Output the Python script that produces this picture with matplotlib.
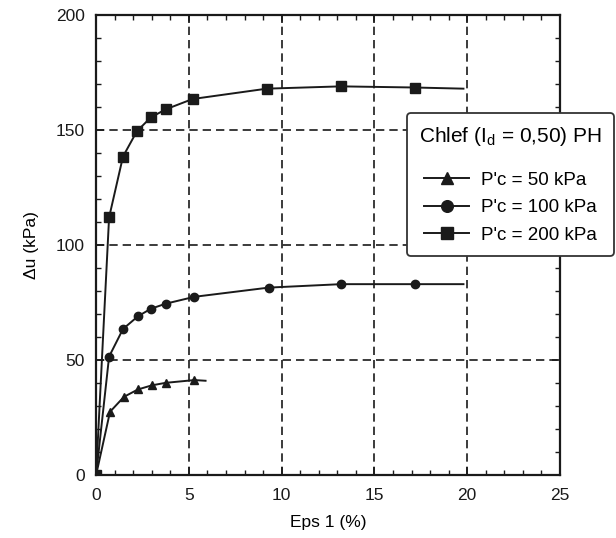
import matplotlib
matplotlib.use("Agg")
import matplotlib.pyplot as plt
from matplotlib.ticker import MultipleLocator

plt.rcParams['font.family'] = ['Liberation Sans', 'DejaVu Sans']

# Data (Eps1 %, Delta u kPa)
eps_50 = [0.0, 0.75, 1.5, 2.25, 3.0, 3.75, 5.3, 5.9]
du_50 = [0.0, 27.5, 34.0, 37.2, 39.0, 40.1, 41.3, 41.0]

eps_100 = [0.0, 0.7, 1.45, 2.25, 2.95, 3.75, 5.3, 9.3, 13.2, 17.2, 19.8]
du_100 = [0.0, 51.5, 63.5, 69.0, 72.3, 74.5, 77.5, 81.5, 83.0, 83.0, 83.0]

eps_200 = [0.0, 0.7, 1.45, 2.2, 2.95, 3.75, 5.2, 9.2, 13.2, 17.2, 19.8]
du_200 = [0.0, 112.0, 138.5, 149.5, 155.5, 159.0, 163.5, 168.0, 169.0, 168.5, 168.0]

labels = ["P'c = 50 kPa", "P'c = 100 kPa", "P'c = 200 kPa"]
xticks = [0, 5, 10, 15, 20, 25]
yticks = [0, 50, 100, 150, 200]

fig = plt.figure(figsize=(6.16, 5.38), dpi=100)
ax = fig.add_axes([0.156, 0.117, 0.753, 0.855])

ax.plot(eps_50, du_50, color='#1a1a1a', lw=1.4, marker='^', ms=6,
        markevery=list(range(len(eps_50) - 1)), label=labels[0])
ax.plot(eps_100, du_100, color='#1a1a1a', lw=1.4, marker='o', ms=6,
        markevery=list(range(len(eps_100) - 1)), label=labels[1])
ax.plot(eps_200, du_200, color='#1a1a1a', lw=1.4, marker='s', ms=6.5,
        markevery=list(range(len(eps_200) - 1)), label=labels[2])

ax.set_xlim(0, 25)
ax.set_ylim(0, 200)
ax.set_xticks(xticks)
ax.set_yticks(yticks)
ax.xaxis.set_minor_locator(MultipleLocator(1))
ax.yaxis.set_minor_locator(MultipleLocator(10))
ax.tick_params(which='both', direction='in', top=True, right=True, labelsize=12.5, colors='#1a1a1a')
ax.tick_params(axis='x', which='major', pad=9)
ax.tick_params(axis='y', which='major', pad=8)
ax.tick_params(which='major', length=6, width=1.2)
ax.tick_params(which='minor', length=3.5, width=1)
ax.grid(True, which='major', linestyle=(0, (5, 3)), color='#1a1a1a', lw=1.2)
for s in ax.spines.values():
    s.set_linewidth(1.6)
    s.set_color('#1a1a1a')

ax.set_xlabel('Eps 1 (%)', fontsize=12.5, labelpad=9)
ax.set_ylabel('Δu (kPa)', fontsize=12.5, labelpad=12)

leg = ax.legend(loc='upper left', bbox_to_anchor=(0.67, 0.787), borderaxespad=0,
                fontsize=13.5, title=r"Chlef (I$_\mathregular{d}$ = 0,50) PH", title_fontsize=15,
                frameon=True, fancybox=True, edgecolor='#333333', handlelength=2.4,
                borderpad=0.65, labelspacing=0.55, handletextpad=0.6, markerscale=1.4)
leg._legend_box.sep = 17
leg.get_frame().set_linewidth(1.3)
leg.get_frame().set_alpha(1)

fig.savefig('out.png', dpi=100)
